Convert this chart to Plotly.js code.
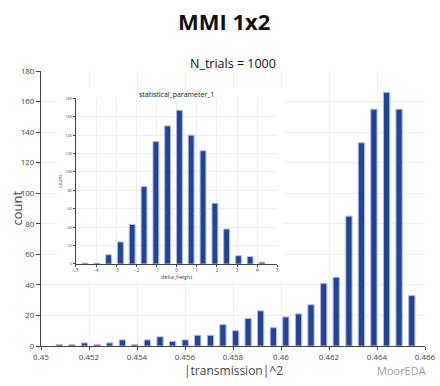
<!DOCTYPE html>
<html>
<head>
<meta charset="utf-8">
<script src="https://cdn.plot.ly/plotly-3.0.1.min.js"></script>
<style>html,body{margin:0;padding:0;background:#fff;}#chart{width:440px;height:386px;}</style>
</head>
<body>
<div id="chart"></div>
<script>
// Main histogram: |transmission|^2 bin centers and counts
var transmissionBins = [0.45076, 0.45129, 0.45181, 0.45234, 0.45286, 0.45339, 0.45391, 0.45443,
  0.45496, 0.45548, 0.45601, 0.45653, 0.45706, 0.45758, 0.45811, 0.45863, 0.45915, 0.45968,
  0.46020, 0.46073, 0.46125, 0.46178, 0.46230, 0.46283, 0.46335, 0.46387, 0.46440, 0.46492, 0.46545];
var transmissionCounts = [1, 1, 2, 1, 2, 4, 1, 4, 6, 3, 4, 7, 7, 14, 10, 18, 23, 12, 19, 21, 27, 41, 45, 85, 133, 155, 166, 155, 33];

// Inset histogram: delta_height bin centers and counts
var deltaBins = [-4.55, -3.96, -3.38, -2.79, -2.21, -1.62, -1.03, -0.45, 0.14, 0.72, 1.31, 1.90, 2.48, 3.07, 3.65, 4.24];
var deltaCounts = [1, 1, 10, 24, 43, 84, 133, 150, 167, 140, 123, 66, 38, 9, 8, 2];

var mainTitle = 'MMI 1x2';
var subTitle = 'N_trials = 1000';
var mainXTitle = '|transmission|^2';
var mainYTitle = 'count';
var insetTitle = 'statistical_parameter_1';
var insetXTitle = 'delta_height';
var insetYTitle = 'count';
var watermark = 'MoorEDA';

var barColor = 'rgb(31,69,148)';
var barLine = 'rgb(178,182,232)';

var traces = [
  {type: 'bar', x: transmissionBins, y: transmissionCounts, xaxis: 'x', yaxis: 'y',
   marker: {color: barColor, line: {color: barLine, width: 1}}, hoverinfo: 'none'},
  {type: 'scatter', x: [], y: [], xaxis: 'x2', yaxis: 'y2', hoverinfo: 'none'},
  {type: 'bar', x: deltaBins, y: deltaCounts, xaxis: 'x3', yaxis: 'y3',
   marker: {color: barColor, line: {color: barLine, width: 1}}, hoverinfo: 'none'}
];

var font = 'Open Sans, Noto Sans, sans-serif';
var layout = {
  width: 440, height: 386,
  margin: {l: 41, r: 15, t: 71, b: 40},
  paper_bgcolor: '#fff', plot_bgcolor: '#fff',
  showlegend: false, bargap: 0.5,
  font: {family: font, color: '#444'},
  xaxis: {domain: [0, 1], range: [0.45, 0.466], tick0: 0.45, dtick: 0.002, showline: true, linecolor: '#444',
    linewidth: 1, ticks: 'outside', ticklen: 3, tickcolor: '#444', gridcolor: '#eee', zeroline: false,
    tickfont: {size: 8, color: '#444'}, anchor: 'y', fixedrange: true},
  yaxis: {domain: [0, 1], range: [0, 180], dtick: 20, showline: true, linecolor: '#444', linewidth: 1,
    ticks: 'outside', ticklen: 4, tickcolor: '#444', gridcolor: '#eee', zeroline: false,
    tickfont: {size: 8, color: '#444'}, anchor: 'x', fixedrange: true},
  xaxis2: {domain: [0.0417, 0.6328], visible: false, showgrid: false, zeroline: false, anchor: 'y2', range: [0, 1]},
  yaxis2: {domain: [0.2364, 0.938], visible: false, showgrid: false, zeroline: false, anchor: 'x2', range: [0, 1]},
  xaxis3: {domain: [0.0911, 0.6154], range: [-5, 5], dtick: 1, showline: true, linecolor: '#444', linewidth: 1,
    ticks: 'outside', ticklen: 2, tickcolor: '#444', gridcolor: '#eee', zeroline: false,
    tickfont: {size: 4.5, color: '#444'}, anchor: 'y3', fixedrange: true},
  yaxis3: {domain: [0.2982, 0.9007], range: [0, 180], dtick: 20, showline: true, linecolor: '#444', linewidth: 1,
    ticks: 'outside', ticklen: 2, tickcolor: '#444', gridcolor: '#eee', zeroline: false,
    tickfont: {size: 4, color: '#444'}, anchor: 'x3', fixedrange: true},
  annotations: [
    {text: '<b>' + mainTitle + '</b>', xref: 'paper', yref: 'paper', x: 0.4753, y: 1.1818, showarrow: false,
     xanchor: 'center', yanchor: 'middle', borderpad: 0, font: {size: 22, color: '#111', family: font}},
    {text: subTitle, xref: 'paper', yref: 'paper', x: 0.5, y: 1.0255, showarrow: false,
     xanchor: 'center', yanchor: 'middle', borderpad: 0, font: {size: 12.5, color: '#111', family: font}},
    {text: mainXTitle, xref: 'paper', yref: 'paper', x: 0.5, y: -0.0909, showarrow: false,
     xanchor: 'center', yanchor: 'middle', borderpad: 0, font: {size: 12, color: '#444', family: font}},
    {text: mainYTitle, xref: 'paper', yref: 'paper', x: -0.0651, y: 0.5, showarrow: false, textangle: -90,
     xanchor: 'center', yanchor: 'middle', borderpad: 0, font: {size: 13, color: '#444', family: font}},
    {text: insetTitle, xref: 'paper', yref: 'paper', x: 0.3534, y: 0.9138, showarrow: false,
     xanchor: 'center', yanchor: 'middle', borderpad: 0, font: {size: 7, color: '#111', family: font}},
    {text: insetXTitle, xref: 'paper', yref: 'paper', x: 0.3534, y: 0.2527, showarrow: false,
     xanchor: 'center', yanchor: 'middle', borderpad: 0, font: {size: 5.5, color: '#444', family: font}},
    {text: insetYTitle, xref: 'paper', yref: 'paper', x: 0.0495, y: 0.6, showarrow: false, textangle: -90,
     xanchor: 'center', yanchor: 'middle', borderpad: 0, font: {size: 5, color: '#444', family: font}},
    {text: watermark, xref: 'paper', yref: 'paper', x: 0.94, y: -0.0873, showarrow: false,
     xanchor: 'center', yanchor: 'middle', borderpad: 0, font: {size: 11, color: 'rgba(110,110,110,0.7)', family: font}}
  ]
};

Plotly.newPlot('chart', traces, layout, {displayModeBar: false, staticPlot: true});
</script>
</body>
</html>
